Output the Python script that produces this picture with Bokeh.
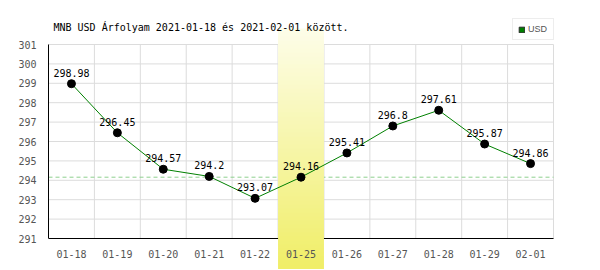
from bokeh.plotting import figure
from bokeh.models import (Range1d, FixedTicker, Legend, LegendItem, Label,
                          LabelSet, ColumnDataSource)
from bokeh.core.properties import value
from bokeh.embed import file_html
from bokeh.resources import INLINE

# ---- data ----
dates = ["01-18", "01-19", "01-20", "01-21", "01-22", "01-25",
         "01-26", "01-27", "01-28", "01-29", "02-01"]
rates = [298.98, 296.45, 294.57, 294.2, 293.07, 294.16,
         295.41, 296.8, 297.61, 295.87, 294.86]
y_ticks = [291, 292, 293, 294, 295, 296, 297, 298, 299, 300, 301]
highlight = "01-25"
series_name = "USD"
title_text = "MNB USD Árfolyam 2021-01-18 és 2021-02-01 között."

# ---- layout constants (pixels) ----
W, H = 600, 270
LEFT, RIGHT_BORDER = 48, 46
PLOT_TOP, PLOT_BOTTOM = 44, 238      # canvas rows of y_ticks[-1] and y_ticks[0]
BAND_TOP, BAND_BOTTOM = 28, 268

MONO = "DejaVu Sans Mono"
GRID = "#dcdcdc"
TICK = "#555555"

# ---- derived ----
n = len(dates)
xs = [i + 0.5 for i in range(n)]
labels = [str(v) for v in rates]
hi = dates.index(highlight)
ref = rates[hi]
ymin, ymax = y_ticks[0], y_ticks[-1]
ppu = (PLOT_BOTTOM - PLOT_TOP) / (ymax - ymin)
y_end = ymax + PLOT_TOP / ppu
y_start = ymin - (H - PLOT_BOTTOM) / ppu
frame_w = W - LEFT - RIGHT_BORDER
x_end = n * frame_w / (frame_w - 1)


def canvas_y(py):
    return y_end - py / ppu


p = figure(width=W, height=H, output_backend="svg", toolbar_location=None,
           title=None,
           x_range=Range1d(0, x_end), y_range=Range1d(y_start, y_end),
           min_border_left=LEFT, min_border_right=RIGHT_BORDER,
           min_border_top=0, min_border_bottom=0,
           background_fill_color="white", border_fill_color="white",
           outline_line_color=None)
p.xgrid.visible = False
p.ygrid.visible = False

# axes
p.xaxis.fixed_location = ymin
p.xaxis.ticker = FixedTicker(ticks=xs)
p.xaxis.major_label_overrides = {x: d for x, d in zip(xs, dates)}
p.xaxis.axis_line_color = None
p.yaxis.ticker = FixedTicker(ticks=y_ticks)
p.yaxis.bounds = (ymin, ymax)
p.yaxis.axis_line_color = "black"
for ax in (p.xaxis[0], p.yaxis[0]):
    ax.major_tick_line_color = None
    ax.minor_tick_line_color = None
    ax.major_label_text_font = MONO
    ax.major_label_text_font_size = "10px"
    ax.major_label_text_color = TICK
p.xaxis.major_label_standoff = 5
p.yaxis.major_label_standoff = 6

# grid lines (drawn as glyphs so the band can cover them)
bounds = list(range(n + 1))
p.segment(x0=bounds, y0=[ymin] * len(bounds), x1=bounds, y1=[ymax] * len(bounds),
          line_color=GRID, line_width=1)
p.segment(x0=[0] * len(y_ticks), y0=y_ticks, x1=[n] * len(y_ticks), y1=y_ticks,
          line_color=GRID, line_width=1)
# reference dashed line at highlighted day's value
p.segment(x0=[0], y0=[ref], x1=[n], y1=[ref], line_color="#8fd08f",
          line_dash="4 3", line_width=1)
# x axis line
p.segment(x0=[0], y0=[ymin], x1=[n], y1=[ymin], line_color="black", line_width=1)

# highlighted day band with vertical gradient
steps = 60
c0 = (253, 253, 232)
c1 = (240, 238, 104)
band_t = canvas_y(BAND_TOP)
band_b = canvas_y(BAND_BOTTOM)
dh = (band_t - band_b) / steps
tops, bots, cols = [], [], []
for k in range(steps):
    t = k / (steps - 1)
    cols.append("#%02x%02x%02x" % tuple(int(round(a + (b - a) * t)) for a, b in zip(c0, c1)))
    tops.append(band_t - k * dh)
    bots.append(band_t - (k + 1) * dh - dh * 0.1)
p.quad(left=[hi] * steps, right=[hi + 1] * steps, top=tops, bottom=bots,
       fill_color=cols, line_color=None)

# series
p.line(xs, rates, line_color="#008000", line_width=1)
p.scatter(xs, rates, size=8, fill_color="black", line_color="black")
src = ColumnDataSource(dict(x=xs, y=rates, t=labels))
p.add_layout(LabelSet(x="x", y="y", text="t", source=src, y_offset=7,
                      text_font=value(MONO), text_font_size="10px",
                      text_color="black", text_align="center",
                      text_baseline="alphabetic"))

# title
p.add_layout(Label(x=5, y=H - 27, x_units="screen", y_units="screen",
                   text=title_text, text_font=MONO, text_font_size="10px",
                   text_color="black", text_align="left", text_baseline="middle"))

# legend (swatch renderer has no drawable area in the plot)
nan = float("nan")
dummy = p.quad(left=[nan], right=[nan], top=[nan], bottom=[nan],
               fill_color="#008000", line_color="#2a2a2a", line_width=1)
legend = Legend(items=[LegendItem(label=series_name, renderers=[dummy])],
                location=(464, H - 40), orientation="vertical",
                border_line_color=GRID, background_fill_color="white",
                background_fill_alpha=1,
                label_text_font="Liberation Sans", label_text_font_size="9px",
                label_text_color=TICK, glyph_width=7, glyph_height=7,
                label_standoff=3, padding=5, spacing=0, margin=0,
                label_height=8)
p.add_layout(legend, "center")

open("out.html", "w").write(file_html(p, INLINE))
